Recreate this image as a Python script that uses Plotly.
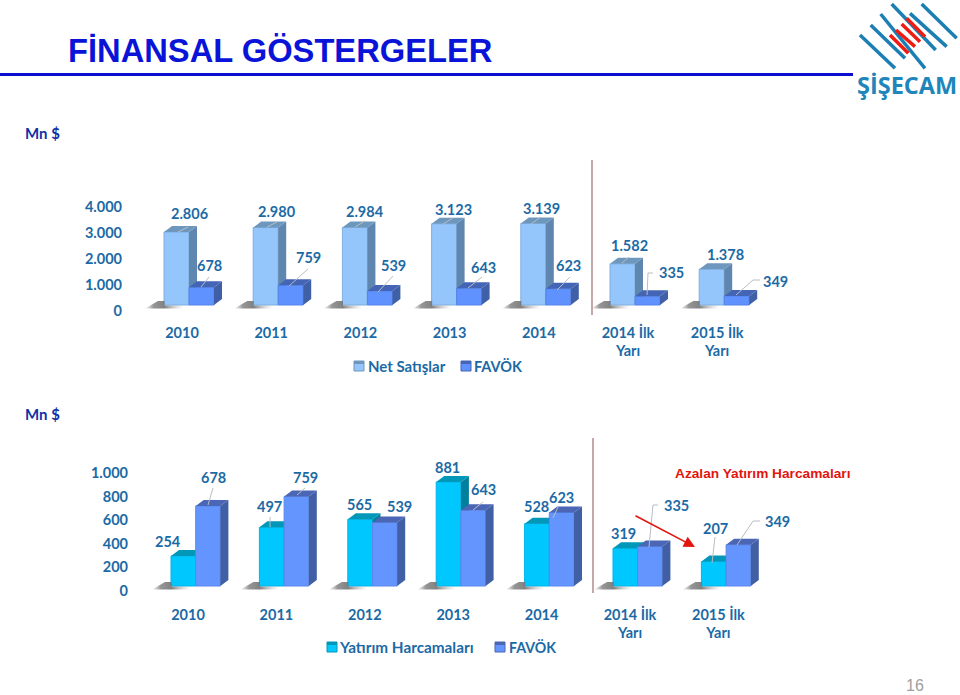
import plotly.graph_objects as go

W, H = 960, 695

categories = ["2010", "2011", "2012", "2013", "2014", "2014 İlk<br>Yarı", "2015 İlk<br>Yarı"]
net_satislar = [2806, 2980, 2984, 3123, 3139, 1582, 1378]
favok = [678, 759, 539, 643, 623, 335, 349]
yatirim = [254, 497, 565, 881, 528, 319, 207]
top_ticks = [0, 1000, 2000, 3000, 4000]
bottom_ticks = [0, 200, 400, 600, 800, 1000]

BLUE_TXT = "#1B6AA5"
FONT = "Lato"


def tr(v):
    return f"{v:,}".replace(",", ".")


def px(x):
    return x / W


def py(y):
    return 1 - y / H


fig = go.Figure()
annotations = []
shapes = []


def note(x, y, text, size=14.5, color=BLUE_TXT, family=FONT, weight=700, xanchor="center"):
    annotations.append(dict(xref="paper", yref="paper", x=px(x), y=py(y), text=text, showarrow=False,
                            xanchor=xanchor, yanchor="middle", borderpad=0,
                            font=dict(size=size, color=color, family=family, weight=weight)))


def seg(points, color="#B8BEC4", width=1):
    for (x0, y0), (x1, y1) in zip(points, points[1:]):
        shapes.append(dict(type="line", xref="paper", yref="paper", x0=px(x0), y0=py(y0), x1=px(x1), y1=py(y1),
                           line=dict(color=color, width=width)))


def chart(suffix_a, suffix_b, y1, y2, ticks, cx0, unit, yscale, base, left, bar_w,
          s1, s2, c1, c2, tick_shift, standoff):
    """y1,y2: pixel extents of the plot box; base: pixel of zero; yscale: px per unit."""
    L, R = 130, 800
    xr = [(L - cx0) / unit, (R - cx0) / unit]
    yr = [(base - y2) / yscale, (base - y1) / yscale]
    dx, dy = 8 / unit, 6 / yscale
    bw = bar_w / unit
    n = len(categories)
    xs = list(range(n))
    offs = [left / unit, (left + bar_w) / unit]
    axis_a_x = "xaxis" + suffix_a
    axis_a_y = "yaxis" + suffix_a
    axis_b_x = "xaxis" + suffix_b
    axis_b_y = "yaxis" + suffix_b
    ref_a = ("x" + suffix_a, "y" + suffix_a)
    ref_b = ("x" + suffix_b, "y" + suffix_b)

    for s, ref, off, cols in ((s1, ref_a, offs[0], c1), (s2, ref_b, offs[1], c2)):
        fig.add_trace(go.Bar(x=xs, y=s["v"], name=s["name"], offset=off, width=bw, xaxis=ref[0], yaxis=ref[1],
                             marker=dict(color=cols[0], line=dict(color=cols[3], width=1)),
                             showlegend=False, hoverinfo="skip"))
        side_x, side_y, top_x, top_y = [], [], [], []
        for i, v in zip(xs, s["v"]):
            a = i + off
            b = a + bw
            side_x += [b, b + dx, b + dx, b, b, None]
            side_y += [0, dy, v + dy, v, 0, None]
            top_x += [a, a + dx, b + dx, b, a, None]
            top_y += [v, v + dy, v + dy, v, v, None]
        fig.add_trace(go.Scatter(x=side_x, y=side_y, mode="lines", fill="toself", fillcolor=cols[2], line=dict(width=0),
                                 xaxis=ref[0], yaxis=ref[1], showlegend=False, hoverinfo="skip"))
        fig.add_trace(go.Scatter(x=top_x, y=top_y, mode="lines", fill="toself", fillcolor=cols[1], line=dict(width=0),
                                 xaxis=ref[0], yaxis=ref[1], showlegend=False, hoverinfo="skip"))
    # soft floor shadows left of each first bar
    for i in xs:
        a = i + offs[0]
        sx = [a - 19 / unit, a - 6 / unit, a + 0.5 / unit, a + 0.5 / unit, a + 20 / unit, a + 20 / unit, a - 19 / unit]
        sy = [-3.5 / yscale, 4 / yscale, 4 / yscale, -0.6 / yscale, -0.6 / yscale, -3.5 / yscale, -3.5 / yscale]
        fig.add_trace(go.Scatter(x=sx, y=sy, mode="lines", line=dict(width=0), fill="toself",
                                 fillgradient=dict(type="horizontal",
                                                   colorscale=[[0, "rgba(130,130,130,0)"], [0.22, "rgba(115,115,115,0.75)"],
                                                               [0.5, "rgba(115,115,115,0.9)"], [1, "rgba(190,190,190,0)"]]),
                                 xaxis=ref_a[0], yaxis=ref_a[1], showlegend=False, hoverinfo="skip"))

    dom_x = [px(L), px(R)]
    dom_y = [py(y2), py(y1)]
    fig.update_layout({
        axis_a_x: dict(domain=dom_x, range=xr, anchor="y" + suffix_a, tickmode="array", tickvals=xs, ticktext=categories,
                       showgrid=False, zeroline=False, showline=False, ticks="",
                       tickfont=dict(family=FONT, size=14.5, color=BLUE_TXT, weight=700)),
        axis_a_y: dict(domain=dom_y, range=yr, anchor="x" + suffix_a, tickmode="array", tickvals=ticks,
                       ticktext=[tr(t) for t in ticks], showgrid=False, zeroline=False, showline=False, ticks="",
                       ticklabelshift=tick_shift, ticklabelstandoff=standoff,
                       tickfont=dict(family=FONT, size=14.5, color=BLUE_TXT, weight=700)),
        axis_b_x: dict(domain=dom_x, range=xr, anchor="y" + suffix_b, overlaying="x" + suffix_a, visible=False),
        axis_b_y: dict(domain=dom_y, range=yr, anchor="x" + suffix_b, overlaying="y" + suffix_a, visible=False),
    })


chart("", "3", 190, 322, top_ticks, 182, 89.2, 0.026, 305, -18, 25,
      dict(v=net_satislar, name="Net Satışlar"), dict(v=favok, name="FAVÖK"),
      ("#94C5FB", "#6E97BE", "#5F86AE", "#7FAEDF"), ("#5F91FF", "#4465B5", "#3F5FA6", "#5585E8"), 6, 7)
chart("2", "4", 450, 604, bottom_ticks, 188, 88.4, 0.118, 586, -17, 24.7,
      dict(v=yatirim, name="Yatırım Harcamaları"), dict(v=favok, name="FAVÖK"),
      ("#00C8FF", "#0097B8", "#00809C", "#00B4E6"), ("#6495FF", "#4A66B5", "#405FA5", "#5A88E8"), 5, 1)

# ---- data labels for the upper chart
top_s1_pos = [(189, 214), (277, 212), (365, 211), (453, 209), (541, 208), (629, 245), (725, 254)]
top_s2_pos = [(209, 265), (308, 257), (393, 265), (483, 267), (568, 265), (671, 272), (775, 281)]
for v, p in zip(net_satislar, top_s1_pos):
    note(p[0], p[1], tr(v))
for v, p in zip(favok, top_s2_pos):
    note(p[0], p[1], tr(v))
for pts in [[(201, 287), (209, 277)], [(289, 286), (308, 269)], [(378, 292), (393, 276)], [(468, 288), (482, 277)],
            [(557, 290), (570, 277)], [(647, 295), (648, 273), (653, 273)], [(736, 295), (753, 280), (760, 280)],
            [(178, 232), (188, 227)], [(267, 227), (277, 222)], [(355, 227), (365, 221)], [(443, 224), (453, 218)],
            [(531, 224), (541, 217)], [(622, 263), (629, 257)]]:
    seg(pts)

# ---- data labels for the lower chart
bot_s1_pos = [(168, 541), (269, 507), (359, 504), (447, 467), (536, 507), (623, 533), (715, 528)]
bot_s2_pos = [(213, 477), (305, 477), (399, 506), (483, 490), (561, 497), (676, 505), (777, 521)]
for v, p in zip(yatirim, bot_s1_pos):
    note(p[0], p[1], tr(v))
for v, p in zip(favok, bot_s2_pos):
    note(p[0], p[1], tr(v))
for pts in [[(208, 505), (213, 488)], [(270, 527), (270, 517)], [(297, 495), (305, 488)], [(473, 510), (483, 502)],
            [(553, 518), (558, 507)], [(649, 547), (653, 505), (658, 505)], [(712, 563), (715, 537)],
            [(737, 545), (753, 521), (760, 521)]]:
    seg(pts)

# ---- separators
seg([(592, 160), (592, 315)], color="#B98A8A", width=1.5)
seg([(593, 438), (593, 593)], color="#B98A8A", width=1.5)


# ---- legends
def legend_item(x, y, label, front, top, tx, size):
    shapes.append(dict(type="rect", xref="paper", yref="paper", x0=px(x), x1=px(x + 10), y0=py(y + 5), y1=py(y - 5),
                       fillcolor=front, line=dict(color=top, width=1)))
    shapes.append(dict(type="rect", xref="paper", yref="paper", x0=px(x), x1=px(x + 10), y0=py(y - 2), y1=py(y - 5),
                       fillcolor=top, line=dict(width=0)))
    note(tx, y, label, xanchor="left", size=size)


legend_item(354, 366, "Net Satışlar", "#94C5FB", "#6E97BE", 367, 15)
legend_item(461, 366, "FAVÖK", "#5F91FF", "#4465B5", 473, 14.5)
legend_item(327, 647, "Yatırım Harcamaları", "#00C8FF", "#0097B8", 338, 15.3)
legend_item(495, 647, "FAVÖK", "#6495FF", "#4A66B5", 508, 14.2)

# ---- header
note(67, 50, "FİNANSAL GÖSTERGELER", size=32.7, color="#0A14D8", family="Liberation Sans", weight=700, xanchor="left")
seg([(0, 74.5), (853, 74.5)], color="#0A0ED0", width=3)
note(24, 133, "Mn $", size=15, color="#1030A8", xanchor="left")
note(24, 414, "Mn $", size=15, color="#1030A8", xanchor="left")
note(763, 473, "Azalan Yatırım Harcamaları", size=13.7, color="#E2150F", family="Liberation Sans", weight=700)
annotations.append(dict(xref="paper", yref="paper", axref="pixel", ayref="pixel", x=px(695), y=py(547),
                        ax=634 - 695, ay=515 - 547, text="", showarrow=True, arrowhead=2, arrowsize=1.4, arrowwidth=1.6,
                        arrowcolor="#E2150F"))

# ---- logo
for a, b in [((60, 105), (165, 205)), ((92, 75), (195, 175)), ((122, 42), (255, 205)), ((155, 12), (287, 150)),
             ((210, 40), (320, 140)), ((245, 12), (350, 115))]:
    seg([(840 + a[0] / 3, a[1] / 3), (840 + b[0] / 3, b[1] / 3)], color="#1C7FB4", width=3.5)
for a, b in [((150, 105), (205, 160)), ((168, 90), (225, 140)), ((185, 72), (240, 125)), ((200, 55), (255, 110))]:
    seg([(840 + a[0] / 3, a[1] / 3), (840 + b[0] / 3, b[1] / 3)], color="#EE1C12", width=3.5)
note(907, 85, "ŞİŞECAM", size=23.5, color="#1E86BA", family="Open Sans", weight=700)

# ---- page number
note(915, 685.5, "16", size=16, color="#A0A0A0", family="Liberation Sans", weight=400)

fig.update_layout(width=W, height=H, margin=dict(l=0, r=0, t=0, b=0, autoexpand=False), paper_bgcolor="white",
                  plot_bgcolor="rgba(0,0,0,0)", barmode="overlay", annotations=annotations, shapes=shapes, showlegend=False)

fig.write_html("out.html", config={"displayModeBar": False},
               post_script="document.body.style.margin='0';document.body.style.overflow='hidden';")
